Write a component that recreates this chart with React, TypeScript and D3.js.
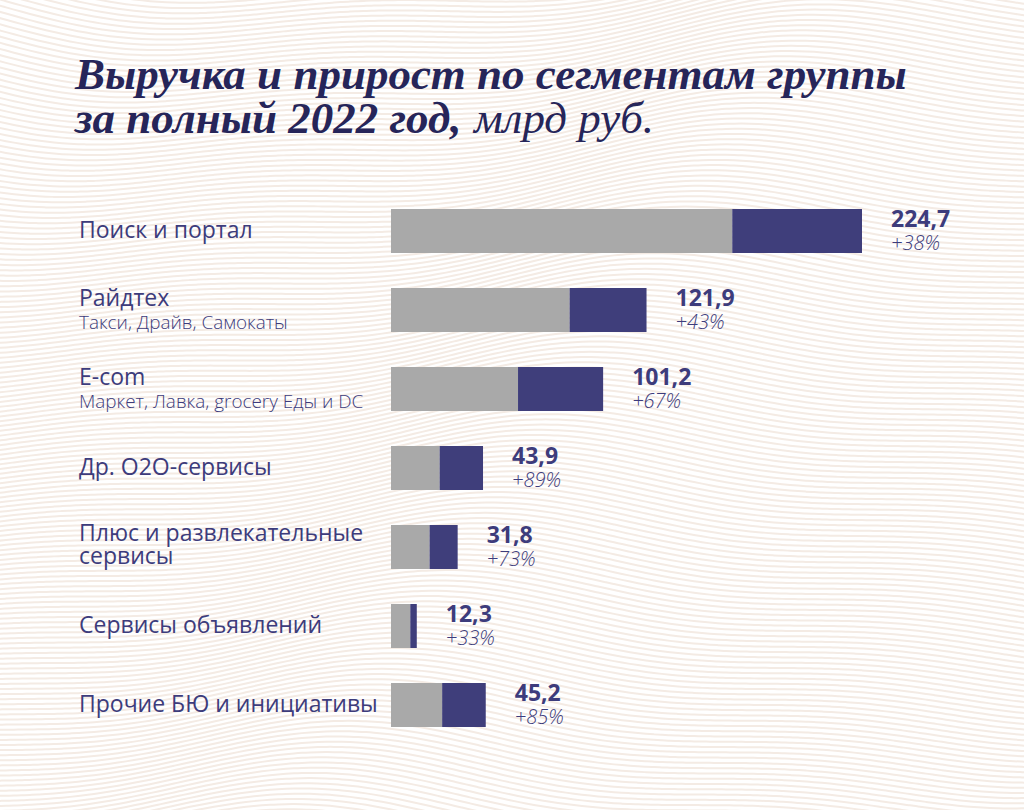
import React, { useEffect, useRef } from "react";
import * as d3 from "d3";

// ---- data ----
const categories = [
  "Поиск и портал",
  "Райдтех",
  "E-com",
  "Др. О2О-сервисы",
  "Плюс и развлекательные сервисы",
  "Сервисы объявлений",
  "Прочие БЮ и инициативы",
];
const labelLines: string[][] = [
  ["Поиск и портал"],
  ["Райдтех"],
  ["E-com"],
  ["Др. О2О-сервисы"],
  ["Плюс и развлекательные", "сервисы"],
  ["Сервисы объявлений"],
  ["Прочие БЮ и инициативы"],
];
const subLabels = [
  "",
  "Такси, Драйв, Самокаты",
  "Маркет, Лавка, grocery Еды и DC",
  "",
  "",
  "",
  "",
];
// revenue 2022, bln RUB
const revenue2022 = [224.7, 121.9, 101.2, 43.9, 31.8, 12.3, 45.2];
// revenue 2021 (grey part)
const revenue2021 = [162.8, 85.2, 60.6, 23.2, 18.4, 9.2, 24.4];
const growthLabels = ["+38%", "+43%", "+67%", "+89%", "+73%", "+33%", "+85%"];
const valueLabels = ["224,7", "121,9", "101,2", "43,9", "31,8", "12,3", "45,2"];

const W = 1024;
const H = 810;
const TEXT = "#3d3c7c";
const TITLE = "#262559";
const GREY = "#a9a9a9";
const PURPLE = "#3f3e7b";
const SANS = "'Open Sans', 'Noto Sans', sans-serif";
const SERIF = "'Liberation Serif', 'DejaVu Serif', serif";

export default function App() {
  const ref = useRef<SVGSVGElement>(null);

  useEffect(() => {
    const svg = d3.select(ref.current);
    svg.selectAll("*").remove();

    svg.append("rect").attr("width", W).attr("height", H).attr("fill", "#ffffff");

    // decorative wavy background
    const bg = svg.append("g");
    const xs = d3.range(-10, W + 20, 8);
    const line = d3.line<[number, number]>().curve(d3.curveBasis);
    for (let y0 = -120; y0 < H + 120; y0 += 5.2) {
      const pts: [number, number][] = xs.map((x) => [
        x,
        y0 + 28 * Math.sin(x / 190 + y0 / 260) + 10 * Math.sin(x / 75 + y0 / 120),
      ]);
      bg.append("path")
        .attr("d", line(pts) || "")
        .attr("fill", "none")
        .attr("stroke", "#f4ebe4")
        .attr("stroke-width", 2);
    }

    // title
    const t1 = svg
      .append("text")
      .attr("x", 75)
      .attr("y", 89)
      .attr("font-family", SERIF)
      .attr("font-weight", 700)
      .attr("font-style", "italic")
      .attr("font-size", 42)
      .attr("fill", TITLE)
      .text("Выручка и прирост по сегментам группы");
    const w1 = t1.node()!.getComputedTextLength();
    const fs = w1 > 0 ? (42 * 832) / w1 : 46;
    t1.attr("font-size", fs);
    const t2 = svg
      .append("text")
      .attr("x", 75)
      .attr("y", 133)
      .attr("font-family", SERIF)
      .attr("font-weight", 700)
      .attr("font-style", "italic")
      .attr("font-size", fs)
      .attr("fill", TITLE)
      .text("за полный 2022 год,");
    const t2w = t2.node()!.getComputedTextLength();
    svg
      .append("text")
      .attr("x", 75 + t2w + fs * 0.28)
      .attr("y", 133)
      .attr("font-family", SERIF)
      .attr("font-weight", 400)
      .attr("font-style", "italic")
      .attr("font-size", fs)
      .attr("fill", TITLE)
      .text("млрд руб.");

    // scales
    const x = d3.scaleLinear().domain([0, 224.7]).range([391, 862]);
    const y = d3.scalePoint<string>().domain(categories).range([231, 231 + 6 * 79]);
    const barH = 44;

    const rows = svg
      .append("g")
      .selectAll("g")
      .data(categories)
      .join("g")
      .attr("transform", (d) => `translate(0,${y(d)})`);

    rows
      .append("rect")
      .attr("x", x(0))
      .attr("y", -barH / 2)
      .attr("height", barH)
      .attr("width", (_, i) => x(revenue2021[i]) - x(0))
      .attr("fill", GREY);
    rows
      .append("rect")
      .attr("x", (_, i) => x(revenue2021[i]))
      .attr("y", -barH / 2)
      .attr("height", barH)
      .attr("width", (_, i) => x(revenue2022[i]) - x(revenue2021[i]))
      .attr("fill", PURPLE);

    // value labels
    rows
      .append("text")
      .attr("x", (_, i) => x(revenue2022[i]) + 29)
      .attr("y", -4)
      .attr("font-family", SANS)
      .attr("font-weight", 700)
      .attr("font-size", 23)
      .attr("fill", TEXT)
      .text((_, i) => valueLabels[i]);
    rows
      .append("text")
      .attr("x", (_, i) => x(revenue2022[i]) + 29)
      .attr("y", 19)
      .attr("font-family", SANS)
      .attr("font-weight", 300)
      .attr("font-style", "italic")
      .attr("font-size", 20)
      .attr("fill", TEXT)
      .text((_, i) => growthLabels[i]);

    // category labels
    rows.each(function (_, i) {
      const g = d3.select(this);
      const lines = labelLines[i];
      const sub = subLabels[i];
      if (sub) {
        g.append("text")
          .attr("x", 79)
          .attr("y", -4)
          .attr("font-family", SANS)
          .attr("font-size", 23)
          .attr("fill", TEXT)
          .text(lines[0]);
        g.append("text")
          .attr("x", 79)
          .attr("y", 19)
          .attr("font-family", SANS)
          .attr("font-weight", 300)
          .attr("font-size", 18.9)
          .attr("fill", TEXT)
          .text(sub);
      } else if (lines.length === 2) {
        g.append("text")
          .attr("x", 79)
          .attr("y", -6)
          .attr("font-family", SANS)
          .attr("font-size", 23)
          .attr("fill", TEXT)
          .text(lines[0]);
        g.append("text")
          .attr("x", 79)
          .attr("y", 17)
          .attr("font-family", SANS)
          .attr("font-size", 23)
          .attr("fill", TEXT)
          .text(lines[1]);
      } else {
        g.append("text")
          .attr("x", 79)
          .attr("y", 7)
          .attr("font-family", SANS)
          .attr("font-size", 23)
          .attr("fill", TEXT)
          .text(lines[0]);
      }
    });
  }, []);

  return (
    <svg
      ref={ref}
      width={W}
      height={H}
      style={{ position: "absolute", left: 0, top: 0, display: "block" }}
    />
  );
}
